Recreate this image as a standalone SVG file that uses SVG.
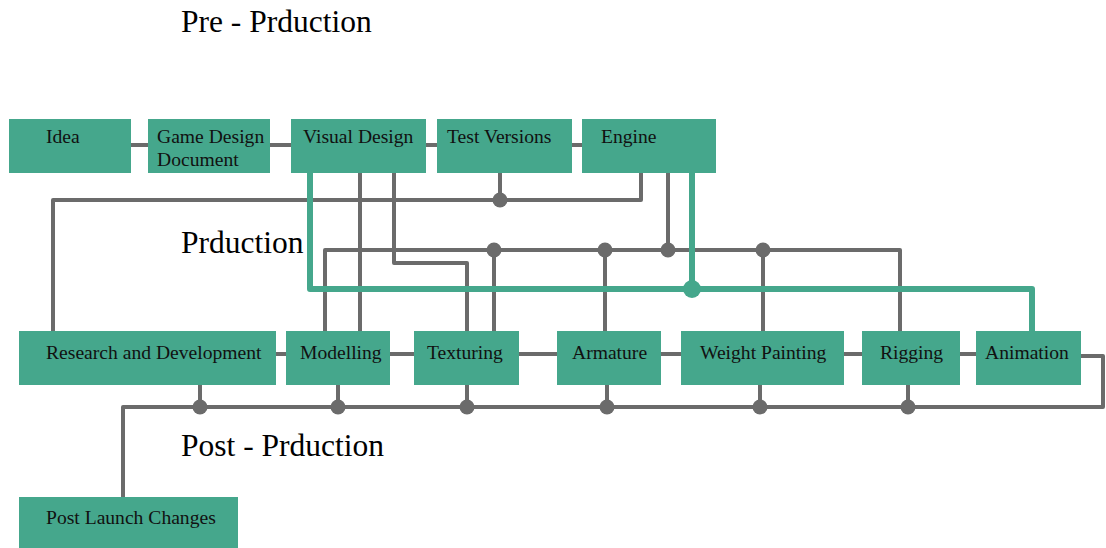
<svg xmlns="http://www.w3.org/2000/svg" width="1106" height="548" viewBox="0 0 1106 548">
<style>
.n{fill:#45a78c}
.t{font-family:"Liberation Serif",serif;font-size:19.6px;fill:#111}
.h{font-family:"Liberation Serif",serif;font-size:31.5px;fill:#000}
.g{fill:none;stroke:#6b6b6b;stroke-width:4;stroke-linejoin:round}
.gr{fill:none;stroke:#45a78c;stroke-width:6;stroke-linejoin:round}
.d{fill:#6b6b6b}
</style>
<rect width="1106" height="548" fill="#fff"/>
<text class="h" x="181" y="32">Pre - Prduction</text>
<text class="h" x="181" y="253">Prduction</text>
<text class="h" x="181" y="456">Post - Prduction</text>
<g id="connectors">
<path class="g" d="M131 145H148M270 145H291M426 145H437M572 145H582"/>
<path class="g" d="M276 354H286M390 354H414M519 354H557M661 354H681M844 354H862M960 354H976"/>
<path class="g" d="M1081 356H1103V407H123V497"/>
<path class="g" d="M200 385V407M338 385V407M467 385V407M607 385V407M760 385V407M908 385V407"/>
<path class="g" d="M53 331V200H641V173M500 173V200"/>
<path class="g" d="M360 173V331M394 173V263H467V331"/>
<path class="g" d="M325 331V250H900V331M668 173V250M494 250V331M605 250V331M763 250V331"/>
<path class="gr" d="M310 173V289H1032V331M692 173V289"/>
<circle class="d" cx="500" cy="200" r="7.5"/>
<circle class="d" cx="494" cy="250" r="7.5"/>
<circle class="d" cx="605" cy="250" r="7.5"/>
<circle class="d" cx="668" cy="250" r="7.5"/>
<circle class="d" cx="763" cy="250" r="7.5"/>
<circle cx="692" cy="289" r="9" fill="#45a78c"/>
<circle class="d" cx="200" cy="407" r="7.5"/>
<circle class="d" cx="338" cy="407" r="7.5"/>
<circle class="d" cx="467" cy="407" r="7.5"/>
<circle class="d" cx="607" cy="407" r="7.5"/>
<circle class="d" cx="760" cy="407" r="7.5"/>
<circle class="d" cx="908" cy="407" r="7.5"/>
</g>
<g id="idea"><rect class="n" x="9" y="119" width="122" height="54"/><text class="t" x="46" y="143">Idea</text></g>
<g id="gdd"><rect class="n" x="148" y="119" width="122" height="54"/><text class="t" x="157" y="143">Game Design</text><text class="t" x="157" y="166">Document</text></g>
<g id="visual"><rect class="n" x="291" y="119" width="135" height="54"/><text class="t" x="303" y="143">Visual Design</text></g>
<g id="test"><rect class="n" x="437" y="119" width="135" height="54"/><text class="t" x="447" y="143">Test Versions</text></g>
<g id="engine"><rect class="n" x="582" y="119" width="134" height="54"/><text class="t" x="601" y="143">Engine</text></g>
<g id="rd"><rect class="n" x="19" y="331" width="257" height="54"/><text class="t" x="46" y="359">Research and Development</text></g>
<g id="modelling"><rect class="n" x="286" y="331" width="104" height="54"/><text class="t" x="300" y="359">Modelling</text></g>
<g id="texturing"><rect class="n" x="414" y="331" width="105" height="54"/><text class="t" x="427" y="359">Texturing</text></g>
<g id="armature"><rect class="n" x="557" y="331" width="104" height="54"/><text class="t" x="572" y="359">Armature</text></g>
<g id="weight"><rect class="n" x="681" y="331" width="163" height="54"/><text class="t" x="700" y="359">Weight Painting</text></g>
<g id="rigging"><rect class="n" x="862" y="331" width="98" height="54"/><text class="t" x="880" y="359">Rigging</text></g>
<g id="animation"><rect class="n" x="976" y="331" width="105" height="54"/><text class="t" x="985" y="359">Animation</text></g>
<g id="post"><rect class="n" x="19" y="497" width="219" height="60"/><text class="t" x="46" y="524">Post Launch Changes</text></g>
</svg>
